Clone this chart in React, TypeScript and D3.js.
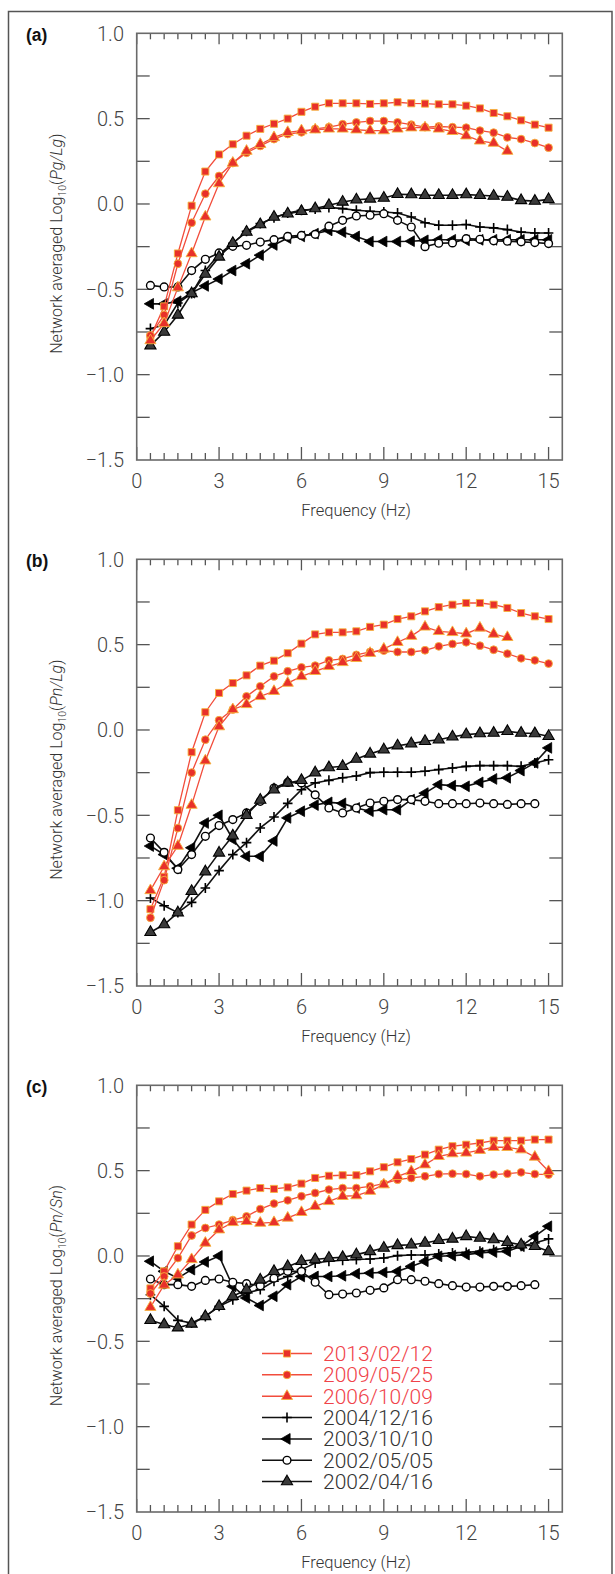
import React from 'react'
import * as d3 from 'd3'

// frequency points (Hz)
const freq = [0.5, 1, 1.5, 2, 2.5, 3, 3.5, 4, 4.5, 5, 5.5, 6, 6.5, 7, 7.5, 8, 8.5, 9, 9.5, 10, 10.5, 11, 11.5, 12, 12.5, 13, 13.5, 14, 14.5, 15]

const seriesNames = ['2013/02/12', '2009/05/25', '2006/10/09', '2004/12/16', '2003/10/10', '2002/05/05', '2002/04/16']

// (a) Pg/Lg
const a2013 = [-0.78, -0.6, -0.29, -0.01, 0.19, 0.29, 0.35, 0.4, 0.44, 0.47, 0.5, 0.54, 0.57, 0.59, 0.59, 0.59, 0.586, 0.59, 0.596, 0.59, 0.588, 0.584, 0.584, 0.576, 0.56, 0.533, 0.514, 0.49, 0.465, 0.447]
const a2009 = [-0.77, -0.65, -0.35, -0.11, 0.06, 0.164, 0.24, 0.3, 0.34, 0.38, 0.41, 0.42, 0.44, 0.45, 0.467, 0.478, 0.486, 0.486, 0.478, 0.465, 0.45, 0.454, 0.45, 0.447, 0.43, 0.418, 0.39, 0.38, 0.357, 0.33]
const a2006 = [-0.8, -0.7, -0.49, -0.29, -0.075, 0.12, 0.24, 0.31, 0.35, 0.39, 0.42, 0.43, 0.435, 0.44, 0.44, 0.435, 0.43, 0.43, 0.44, 0.447, 0.447, 0.44, 0.426, 0.4, 0.37, 0.357, 0.31]
const a2004 = [-0.73, -0.71, -0.58, -0.525, -0.39, -0.295, -0.23, -0.16, -0.115, -0.08, -0.053, -0.037, -0.03, -0.02, -0.027, -0.037, -0.043, -0.047, -0.053, -0.076, -0.11, -0.125, -0.125, -0.12, -0.135, -0.14, -0.15, -0.165, -0.17, -0.17]
const a2003 = [-0.585, -0.585, -0.57, -0.52, -0.48, -0.44, -0.39, -0.35, -0.3, -0.24, -0.2, -0.19, -0.174, -0.155, -0.165, -0.19, -0.22, -0.22, -0.22, -0.218, -0.213, -0.21, -0.21, -0.213, -0.21, -0.21, -0.21, -0.21, -0.21, -0.21]
const a2002b = [-0.477, -0.486, -0.486, -0.39, -0.324, -0.287, -0.248, -0.242, -0.223, -0.209, -0.19, -0.184, -0.178, -0.13, -0.096, -0.07, -0.066, -0.057, -0.096, -0.135, -0.25, -0.23, -0.228, -0.203, -0.207, -0.216, -0.218, -0.222, -0.226, -0.232]
const a2002a = [-0.83, -0.75, -0.65, -0.525, -0.41, -0.31, -0.23, -0.164, -0.12, -0.076, -0.057, -0.043, -0.027, -0.008, 0.012, 0.025, 0.03, 0.035, 0.057, 0.055, 0.051, 0.051, 0.051, 0.055, 0.051, 0.047, 0.041, 0.021, 0.017, 0.027]

// (b) Pn/Lg
const b2013 = [-1.05, -0.86, -0.47, -0.13, 0.104, 0.217, 0.275, 0.32, 0.377, 0.406, 0.45, 0.506, 0.56, 0.572, 0.572, 0.578, 0.604, 0.617, 0.65, 0.666, 0.695, 0.72, 0.734, 0.744, 0.744, 0.734, 0.715, 0.685, 0.666, 0.65]
const b2009 = [-1.1, -0.88, -0.575, -0.25, -0.057, 0.057, 0.12, 0.197, 0.256, 0.314, 0.344, 0.367, 0.377, 0.408, 0.416, 0.44, 0.457, 0.465, 0.457, 0.457, 0.467, 0.49, 0.504, 0.514, 0.494, 0.47, 0.447, 0.42, 0.408, 0.389]
const b2006 = [-0.94, -0.8, -0.68, -0.44, -0.18, 0.02, 0.12, 0.15, 0.197, 0.227, 0.275, 0.314, 0.344, 0.373, 0.396, 0.42, 0.45, 0.475, 0.514, 0.55, 0.604, 0.578, 0.572, 0.564, 0.598, 0.562, 0.543]
const b2004 = [-0.984, -1.03, -1.07, -1.01, -0.926, -0.824, -0.73, -0.66, -0.574, -0.51, -0.43, -0.35, -0.31, -0.295, -0.28, -0.27, -0.25, -0.248, -0.248, -0.248, -0.242, -0.232, -0.223, -0.213, -0.209, -0.209, -0.209, -0.213, -0.193, -0.174]
const b2003 = [-0.68, -0.73, -0.81, -0.69, -0.545, -0.5, -0.64, -0.74, -0.74, -0.65, -0.515, -0.476, -0.44, -0.424, -0.43, -0.457, -0.476, -0.467, -0.467, -0.408, -0.37, -0.32, -0.326, -0.33, -0.307, -0.287, -0.28, -0.238, -0.193, -0.105]
const b2002b = [-0.633, -0.717, -0.818, -0.73, -0.623, -0.56, -0.525, -0.486, -0.418, -0.34, -0.307, -0.31, -0.38, -0.457, -0.486, -0.457, -0.428, -0.418, -0.408, -0.408, -0.418, -0.432, -0.432, -0.432, -0.428, -0.432, -0.436, -0.432, -0.432]
const b2002a = [-1.185, -1.14, -1.07, -0.945, -0.83, -0.72, -0.62, -0.5, -0.41, -0.35, -0.31, -0.295, -0.25, -0.22, -0.213, -0.17, -0.14, -0.115, -0.092, -0.08, -0.066, -0.057, -0.04, -0.027, -0.021, -0.018, -0.008, -0.018, -0.021, -0.037]

// (c) Pn/Sn
const c2013 = [-0.19, -0.09, 0.057, 0.184, 0.27, 0.32, 0.363, 0.383, 0.398, 0.393, 0.402, 0.424, 0.457, 0.47, 0.473, 0.473, 0.496, 0.52, 0.549, 0.568, 0.594, 0.623, 0.643, 0.652, 0.662, 0.676, 0.676, 0.676, 0.682, 0.682]
const c2009 = [-0.22, -0.12, -0.012, 0.12, 0.164, 0.184, 0.21, 0.232, 0.275, 0.307, 0.326, 0.35, 0.369, 0.389, 0.398, 0.398, 0.408, 0.424, 0.447, 0.457, 0.467, 0.48, 0.482, 0.48, 0.467, 0.477, 0.482, 0.49, 0.48, 0.477]
const c2006 = [-0.3, -0.17, -0.11, -0.02, 0.076, 0.154, 0.197, 0.203, 0.193, 0.197, 0.223, 0.256, 0.291, 0.32, 0.35, 0.354, 0.38, 0.418, 0.467, 0.496, 0.535, 0.584, 0.6, 0.604, 0.62, 0.637, 0.637, 0.623, 0.58, 0.496]
const c2004 = [-0.227, -0.295, -0.377, -0.393, -0.354, -0.295, -0.256, -0.217, -0.197, -0.148, -0.12, -0.08, -0.041, -0.031, -0.025, -0.021, -0.018, -0.012, 0.002, 0.006, 0.006, 0.012, 0.018, 0.021, 0.027, 0.037, 0.047, 0.057, 0.076, 0.1]
const c2003 = [-0.031, -0.09, -0.13, -0.08, -0.035, 0.0, -0.178, -0.246, -0.29, -0.236, -0.168, -0.12, -0.12, -0.12, -0.116, -0.104, -0.1, -0.096, -0.09, -0.061, -0.031, -0.002, 0.002, 0.008, 0.018, 0.023, 0.027, 0.057, 0.115, 0.174]
const c2002b = [-0.135, -0.168, -0.168, -0.178, -0.143, -0.135, -0.154, -0.162, -0.174, -0.13, -0.09, -0.09, -0.154, -0.227, -0.223, -0.217, -0.201, -0.187, -0.139, -0.139, -0.148, -0.162, -0.174, -0.182, -0.182, -0.178, -0.178, -0.174, -0.168]
const c2002a = [-0.377, -0.402, -0.42, -0.398, -0.354, -0.295, -0.236, -0.197, -0.14, -0.09, -0.061, -0.031, -0.021, -0.012, -0.008, 0.008, 0.027, 0.047, 0.062, 0.066, 0.076, 0.092, 0.1, 0.115, 0.105, 0.096, 0.08, 0.066, 0.057, 0.027]

const xTickValues = [0, 3, 6, 9, 12, 15]
const xTickLabels = ['0', '3', '6', '9', '12', '15']
const yTickValues = [1, 0.5, 0, -0.5, -1, -1.5]
const yTickLabels = ['1.0', '0.5', '0.0', '\u22120.5', '\u22121.0', '\u22121.5']

const panels = [
  { tag: '(a)', ratio: 'Pg/Lg', data: [a2013, a2009, a2006, a2004, a2003, a2002b, a2002a] },
  { tag: '(b)', ratio: 'Pn/Lg', data: [b2013, b2009, b2006, b2004, b2003, b2002b, b2002a] },
  { tag: '(c)', ratio: 'Pn/Sn', data: [c2013, c2009, c2006, c2004, c2003, c2002b, c2002a] },
]

const kinds = ['square', 'dot', 'tri', 'plus', 'ltri', 'ocirc', 'btri']
const isRed = (i: number) => i < 3

const FONT = "Roboto, 'Liberation Sans', sans-serif"
const RED_LINE = '#f24d3c'
const RED_FILL = '#e8302a'
const RED_EDGE = '#f6b23c'

const left = 136.7
const right = 562.3
const plotH = 426.7
const panelTops = [33.3, 559.3, 1085.3]

const x = d3.scaleLinear().domain([0, 15.5]).range([left, right])

const sqPath = d3.symbol(d3.symbolSquare, 50)() as string
const dotPath = d3.symbol(d3.symbolCircle, 48)() as string
const triPath = d3.symbol(d3.symbolTriangle, 54)() as string
const ltriPath = d3.symbol(d3.symbolTriangle, 50)() as string

function Marker({ kind, cx, cy }: { kind: string; cx: number; cy: number }) {
  const t = `translate(${cx},${cy})`
  switch (kind) {
    case 'square':
      return <path d={sqPath} transform={t} fill={RED_FILL} stroke={RED_EDGE} strokeWidth={0.9} />
    case 'dot':
      return <path d={dotPath} transform={t} fill={RED_FILL} stroke={RED_EDGE} strokeWidth={0.9} />
    case 'tri':
      return <path d={triPath} transform={t} fill={RED_FILL} stroke={RED_EDGE} strokeWidth={0.9} />
    case 'plus':
      return <path d="M-4.8,0H4.8M0,-5V5" transform={t} stroke="#000" strokeWidth={1.6} fill="none" />
    case 'ltri':
      return <path d={ltriPath} transform={`${t} rotate(-90)`} fill="#000" stroke="#000" strokeWidth={0.8} />
    case 'ocirc':
      return <circle cx={cx} cy={cy} r={3.9} fill="#fff" stroke="#000" strokeWidth={1.4} />
    default:
      return <path d={triPath} transform={t} fill="#3a3a3a" stroke="#000" strokeWidth={1.1} />
  }
}

function Panel({ idx }: { idx: number }) {
  const p = panels[idx]
  const top = panelTops[idx]
  const bottom = top + plotH
  const y = d3.scaleLinear().domain([-1.5, 1]).range([bottom, top])
  const line = d3.line<number>().x((_, i) => x(freq[i])).y(d => y(d))
  const minor = d3.range(0.5, 15.01, 0.5).filter(v => v % 3 !== 0)
  const yt = d3.range(-1.25, 0.76, 0.25)
  const order = [3, 4, 5, 6, 0, 1, 2]
  const midY = top + plotH / 2 - 3

  return (
    <g>
      <text x={26} y={top + 8} fontFamily="'Liberation Sans Narrow', 'Liberation Sans', sans-serif" fontWeight="bold" fontSize={17.5} fill="#111">{p.tag}</text>

      {/* ticks */}
      <g stroke="#555" strokeWidth={1.3}>
        {xTickValues.map(v => (
          <g key={'M' + v}>
            <line x1={x(v)} x2={x(v)} y1={bottom} y2={bottom - 13} />
            <line x1={x(v)} x2={x(v)} y1={top} y2={top + 11} />
          </g>
        ))}
        {minor.map(v => (
          <g key={'m' + v}>
            <line x1={x(v)} x2={x(v)} y1={bottom} y2={bottom - 7} />
            <line x1={x(v)} x2={x(v)} y1={top} y2={top + 6} />
          </g>
        ))}
        {yt.map(v => (
          <g key={'y' + v}>
            <line x1={left} x2={left + 13} y1={y(v)} y2={y(v)} />
            <line x1={right} x2={right - 13} y1={y(v)} y2={y(v)} />
          </g>
        ))}
      </g>
      <rect x={left} y={top} width={right - left} height={plotH} fill="none" stroke="#6a6a6a" strokeWidth={1.6} />

      {/* tick labels */}
      <g fontFamily={FONT} fontWeight={300} fontSize={20} fill="#444">
        {yTickValues.map((v, i) => (
          <text key={'yl' + i} x={124} y={y(v)} dy="0.36em" textAnchor="end">{yTickLabels[i]}</text>
        ))}
        {xTickValues.map((v, i) => (
          <text key={'xl' + i} x={x(v)} y={bottom + 28} textAnchor="middle">{xTickLabels[i]}</text>
        ))}
      </g>

      <text x={356} y={bottom + 55.5} textAnchor="middle" fontFamily={FONT} fontWeight={300} fontSize={16.5} fill="#333">Frequency (Hz)</text>

      <text transform={`translate(62,${midY}) rotate(-90)`} textAnchor="middle" fontFamily={FONT} fontWeight={300} fontSize={16} fill="#333">
        Network averaged Log<tspan fontSize={10.5} dy={4}>10</tspan><tspan dy={-4}>(</tspan><tspan fontStyle="italic">{p.ratio}</tspan>)
      </text>

      {/* series */}
      {order.map(s => (
        <g key={'s' + s}>
          <path d={line(p.data[s]) as string} fill="none" stroke={isRed(s) ? RED_LINE : '#111'} strokeWidth={isRed(s) ? 1.3 : 1.6} />
          {p.data[s].map((v, i) => (
            <Marker key={i} kind={kinds[s]} cx={x(freq[i])} cy={y(v)} />
          ))}
        </g>
      ))}
    </g>
  )
}

function Legend() {
  const y0 = 1353.5
  const step = 21.35
  return (
    <g>
      {seriesNames.map((name, i) => {
        const cy = y0 + i * step
        return (
          <g key={name}>
            <line x1={262} x2={312} y1={cy} y2={cy} stroke={isRed(i) ? RED_LINE : '#111'} strokeWidth={1.5} />
            <Marker kind={kinds[i]} cx={287} cy={cy} />
            <text x={323} y={cy} dy="0.36em" fontFamily={FONT} fontWeight={300} fontSize={21} fill={isRed(i) ? '#f0434a' : '#333'}>{name}</text>
          </g>
        )
      })}
    </g>
  )
}

export default function App() {
  return (
    <svg width={615} height={1574} viewBox="0 0 615 1574" style={{ position: 'absolute', left: 0, top: 0, background: '#fff' }}>
      <rect x={0} y={0} width={615} height={1574} fill="#fff" />
      <rect x={8.5} y={11.5} width={603.5} height={1600} fill="none" stroke="#555" strokeWidth={1.5} />
      {panels.map((_, i) => <Panel key={i} idx={i} />)}
      <Legend />
    </svg>
  )
}
